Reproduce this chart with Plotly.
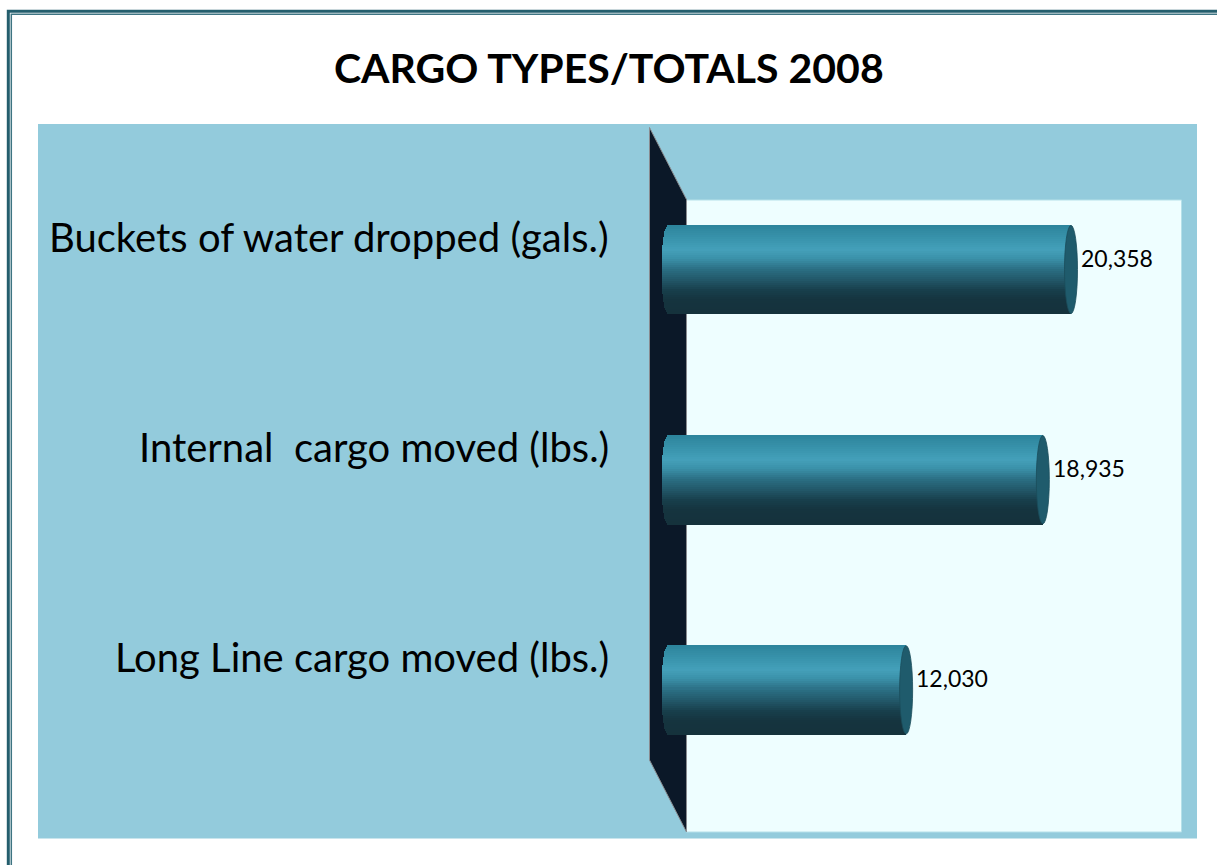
import math
import plotly.graph_objects as go

# ---- data ----
categories = ["Buckets of water dropped (gals.)",
              "Internal  cargo moved (lbs.)",
              "Long Line cargo moved (lbs.)"]
values = [20358, 18935, 12030]
title_text = "CARGO TYPES/TOTALS 2008"

# ---- layout constants (pixels) ----
W, H = 1217, 865
FONT = "Lato, 'Open Sans', sans-serif"
ZERO_PX = 668.0            # pixel of x = 0
SCALE = 403.0 / 20358.0    # px per unit (layout scale)
X_LEFT_PX, X_RIGHT_PX = 650.0, 1181.0
Y_TOP_PX, Y_BOT_PX = 164.4, 795.0
BW = 0.42                  # bar thickness (category units)
CAP_PX = 6.5               # half width of cylinder end ellipse


def px(x):
    return x / W


def py(y):
    return 1 - y / H


# gradient stops across bar thickness (top -> bottom)
stops = [(0.00, (0x2C, 0x84, 0x9C)), (0.12, (0x36, 0x90, 0xA8)),
         (0.28, (0x44, 0xA0, 0xBA)), (0.38, (0x3B, 0x91, 0xA9)),
         (0.50, (0x2B, 0x6F, 0x84)), (0.62, (0x22, 0x58, 0x69)),
         (0.74, (0x18, 0x3F, 0x4C)), (0.85, (0x15, 0x34, 0x3F)),
         (1.00, (0x15, 0x32, 0x3C))]


def grad(t):
    for (a, ca), (b, cb) in zip(stops[:-1], stops[1:]):
        if a <= t <= b:
            f = (t - a) / (b - a)
            c = [round(ca[k] + (cb[k] - ca[k]) * f) for k in range(3)]
            return "rgb(%d,%d,%d)" % tuple(c)
    return "rgb(%d,%d,%d)" % stops[-1][1]


ypos = list(range(len(categories)))
fig = go.Figure()

N = 44
sw = BW / N
for i in range(N):
    tc = (i + 0.5) / N
    u = tc * 2 - 1
    ext = CAP_PX * math.sqrt(max(0.0, 1 - u * u)) / SCALE
    fig.add_trace(go.Bar(
        y=ypos, x=[v + ext for v in values], base=[-ext] * len(values),
        orientation="h", width=sw * 1.6, offset=-BW / 2 + i * sw,
        marker=dict(color=grad(tc), line=dict(width=0)),
        hoverinfo="skip", showlegend=False))

shapes = []
# outer double border
shapes.append(dict(type="rect", xref="paper", yref="paper",
                   x0=px(8.3), x1=px(1240), y0=py(11.2), y1=py(900),
                   line=dict(color="#245E6D", width=3), layer="below"))
shapes.append(dict(type="rect", xref="paper", yref="paper",
                   x0=px(11.3), x1=px(1240), y0=py(14.3), y1=py(900),
                   line=dict(color="#3E7482", width=1.5), layer="below"))
# light blue panel
shapes.append(dict(type="rect", xref="paper", yref="paper",
                   x0=px(38), x1=px(1197), y0=py(124), y1=py(838.5),
                   fillcolor="#93CBDC", line=dict(width=0), layer="below"))
# back wall
shapes.append(dict(type="rect", xref="paper", yref="paper",
                   x0=px(686.5), x1=px(1181.5), y0=py(200), y1=py(832),
                   fillcolor="#EEFEFF", line=dict(color="#B5E0E9", width=1),
                   layer="below"))
# dark side wall
path = "M %f %f L %f %f L %f %f L %f %f Z" % (
    px(649.5), py(127.5), px(686.5), py(199.5),
    px(686.5), py(832), px(649.5), py(760))
shapes.append(dict(type="path", xref="paper", yref="paper", path=path,
                   fillcolor="#0B1828", line=dict(color="#8A8C90", width=1),
                   layer="below"))
# right end caps of cylinders
for yi, v in zip(ypos, values):
    shapes.append(dict(type="circle", xref="x", yref="y", xsizemode="pixel",
                       xanchor=v, x0=-CAP_PX, x1=CAP_PX,
                       y0=yi - BW / 2, y1=yi + BW / 2,
                       fillcolor="#1F5B6C", line=dict(color="#1A4D5B", width=0.8),
                       layer="above"))

annotations = []
annotations.append(dict(text="<b>%s</b>" % title_text, xref="paper", yref="paper",
                        x=px(609), y=py(67), xanchor="center", yanchor="middle",
                        showarrow=False, font=dict(family=FONT, size=41, color="#000000")))
for yi, c in zip(ypos, categories):
    annotations.append(dict(text=c.replace("  ", " \u00a0"), xref="paper", yref="y",
                            x=px(611), y=yi, yshift=33, xanchor="right",
                            yanchor="middle", showarrow=False,
                            font=dict(family=FONT, size=40, color="#000000")))
for yi, v in zip(ypos, values):
    annotations.append(dict(text="{:,}".format(v), xref="x", yref="y",
                            x=v, y=yi, xshift=8, yshift=12, xanchor="left",
                            yanchor="middle", showarrow=False,
                            font=dict(family=FONT, size=23, color="#000000")))

fig.update_layout(
    width=W, height=H, margin=dict(l=0, r=0, t=0, b=0),
    paper_bgcolor="#FFFFFF", plot_bgcolor="rgba(0,0,0,0)",
    barmode="overlay", bargap=0,
    xaxis=dict(domain=[px(X_LEFT_PX), px(X_RIGHT_PX)],
               range=[-(ZERO_PX - X_LEFT_PX) / SCALE, (X_RIGHT_PX - ZERO_PX) / SCALE],
               visible=False, fixedrange=True),
    yaxis=dict(domain=[py(Y_BOT_PX), py(Y_TOP_PX)], range=[2.5, -0.5],
               visible=False, fixedrange=True),
    shapes=shapes, annotations=annotations, showlegend=False,
)

fig.write_html("out.html", config={"displayModeBar": False},
               post_script="document.body.style.margin='0';document.body.style.overflow='hidden';")
